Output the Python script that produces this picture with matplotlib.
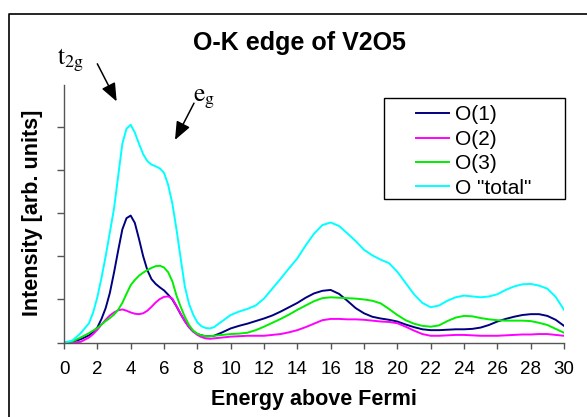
import numpy as np
import matplotlib
matplotlib.use("Agg")
import matplotlib.pyplot as plt
from matplotlib.patches import Rectangle
from matplotlib.lines import Line2D

plt.rcParams['font.family'] = ['Liberation Sans', 'DejaVu Sans']
plt.rcParams['mathtext.fontset'] = 'stix'

# energy grid: finer steps around the edge peaks
energy = np.concatenate([np.arange(0, 1.5, 0.5),
                         np.arange(1.5, 9.0, 0.25),
                         np.arange(9.0, 30.5, 0.5)])

o_total = [0.0, 0.05, 0.22,
           0.45, 0.7, 1.05, 1.5, 2.0, 2.55, 3.1, 3.85, 4.6, 4.95,
           5.04, 4.86, 4.6, 4.36, 4.2, 4.12, 4.08, 4.03, 3.93, 3.65,
           3.22, 2.62, 1.95, 1.3, 0.9, 0.65, 0.47, 0.38, 0.34, 0.33,
           0.36, 0.5, 0.64, 0.72, 0.78, 0.86, 1.02, 1.25, 1.48, 1.72,
           1.95, 2.25, 2.52, 2.72, 2.78, 2.7, 2.53, 2.35, 2.15, 2.02,
           1.92, 1.84, 1.64, 1.38, 1.12, 0.92, 0.82, 0.86, 0.97, 1.05,
           1.09, 1.07, 1.05, 1.07, 1.12, 1.22, 1.3, 1.35, 1.36, 1.32,
           1.25, 1.06, 0.76]

o1 = [0.0, 0.02, 0.08,
      0.17, 0.25, 0.35, 0.55, 0.8, 1.15, 1.62, 2.13, 2.62, 2.88,
      2.94, 2.77, 2.4, 2.0, 1.68, 1.47, 1.36, 1.28, 1.21, 1.11,
      1.0, 0.84, 0.66, 0.5, 0.36, 0.26, 0.2, 0.17, 0.15, 0.15,
      0.16, 0.24, 0.33, 0.39, 0.44, 0.5, 0.56, 0.63, 0.72, 0.82,
      0.92, 1.04, 1.14, 1.2, 1.22, 1.13, 0.97, 0.8, 0.68, 0.6,
      0.56, 0.53, 0.49, 0.42, 0.36, 0.31, 0.29, 0.29, 0.3, 0.31,
      0.31, 0.32, 0.35, 0.41, 0.49, 0.55, 0.6, 0.64, 0.66, 0.66,
      0.62, 0.53, 0.39]

o2 = [0.0, 0.0, 0.02,
      0.12, 0.2, 0.3, 0.42, 0.53, 0.63, 0.7, 0.75, 0.77, 0.74,
      0.7, 0.67, 0.66, 0.68, 0.74, 0.83, 0.93, 1.01, 1.06, 1.07,
      1.02, 0.85, 0.67, 0.5, 0.36, 0.26, 0.18, 0.13, 0.1, 0.09,
      0.1, 0.12, 0.14, 0.15, 0.16, 0.16, 0.16, 0.18, 0.2, 0.24,
      0.29, 0.36, 0.44, 0.52, 0.55, 0.55, 0.54, 0.54, 0.53, 0.51,
      0.49, 0.48, 0.45, 0.37, 0.28, 0.2, 0.16, 0.16, 0.17, 0.18,
      0.18, 0.17, 0.16, 0.16, 0.16, 0.17, 0.18, 0.19, 0.19, 0.2,
      0.2, 0.18, 0.16]

o3 = [0.0, 0.03, 0.12,
      0.22, 0.28, 0.34, 0.42, 0.5, 0.57, 0.65, 0.76, 0.92, 1.13,
      1.33, 1.45, 1.55, 1.62, 1.68, 1.73, 1.77, 1.78, 1.74, 1.63,
      1.42, 1.09, 0.83, 0.6, 0.41, 0.28, 0.21, 0.17, 0.15, 0.15,
      0.16, 0.18, 0.2, 0.21, 0.23, 0.29, 0.37, 0.46, 0.55, 0.65,
      0.76, 0.86, 0.96, 1.03, 1.05, 1.04, 1.03, 1.02, 1.0, 0.97,
      0.91, 0.78, 0.64, 0.52, 0.44, 0.39, 0.37, 0.4, 0.5, 0.58,
      0.62, 0.61, 0.57, 0.54, 0.52, 0.51, 0.51, 0.51, 0.5, 0.46,
      0.41, 0.32, 0.23]

labels = ['O(1)', 'O(2)', 'O(3)', 'O "total"']
colors = ['#000080', '#ff00ff', '#00ee00', '#00ffff']

W, H = 587, 417
fig = plt.figure(figsize=(W / 100, H / 100), dpi=100)
ax = fig.add_axes([64 / W, 1 - 342.7 / H, 500 / W, (342.7 - 85) / H])

lines = []
for vals, c in zip([o1, o2, o3, o_total], colors):
    ln, = ax.plot(energy, vals, color=c, linewidth=1.4)
    lines.append(ln)

ax.set_xlim(0, 30)
ax.set_ylim(0, 5.96)
ax.set_xticks(np.arange(0, 31, 2))
ax.set_yticks(np.arange(0, 6, 1))
ax.set_yticklabels([])
ax.tick_params(axis='x', length=4, width=1, color='#555555', labelsize=13.5, pad=9)
ax.tick_params(axis='y', length=5, width=1, color='#555555')
for s in ['top', 'right']:
    ax.spines[s].set_visible(False)
for s in ['left', 'bottom']:
    ax.spines[s].set_color('#555555')
    ax.spines[s].set_linewidth(1)

fig.text(299 / W, 1 - 43 / H, 'O-K edge of V2O5', ha='center', va='center',
         fontsize=18, fontweight='bold')
fig.text(33 / W, 1 - 212.5 / H, 'Intensity [arb. units]', ha='center', va='center',
         rotation=90, fontsize=15.5, fontweight='bold')
fig.text(313.7 / W, 1 - 400 / H, 'Energy above Fermi', ha='center', va='center',
         fontsize=15.5, fontweight='bold')

# peak annotations
arrow = dict(arrowstyle='-|>,head_length=1.1,head_width=0.45', color='black',
             lw=1.1, mutation_scale=10, shrinkA=0, shrinkB=0)
ax.annotate('', xy=(3.16, 5.58), xytext=(2.0, 6.45), annotation_clip=False, arrowprops=arrow)
ax.annotate('', xy=(6.66, 4.69), xytext=(7.8, 5.54), annotation_clip=False, arrowprops=arrow)
fig.text(57 / W, 1 - 64 / H, r'$\mathrm{t_{2g}}$', fontsize=18.5, va='baseline')
fig.text(193 / W, 1 - 101 / H, r'$\mathrm{e_{g}}$', fontsize=18.5, va='baseline')

# legend with its own frame
leg = fig.legend(lines, labels, loc='upper left', bbox_to_anchor=(416 / W, 1 - 105.5 / H),
                 frameon=False, fontsize=15, handlelength=1.6, handletextpad=0.25,
                 borderpad=0, borderaxespad=0, labelspacing=0.26)
fig.patches.append(Rectangle((384 / W, 1 - 199 / H), 181 / W, 101 / H,
                             transform=fig.transFigure, fill=False,
                             edgecolor='black', linewidth=1))

# outer border of the chart area (top and left edges show)
fig.add_artist(Line2D([9 / W, 9 / W, 1.0], [0.0, 1 - 14 / H, 1 - 14 / H],
                      transform=fig.transFigure, color='black', linewidth=1.2))

fig.savefig('out.png', dpi=100)
